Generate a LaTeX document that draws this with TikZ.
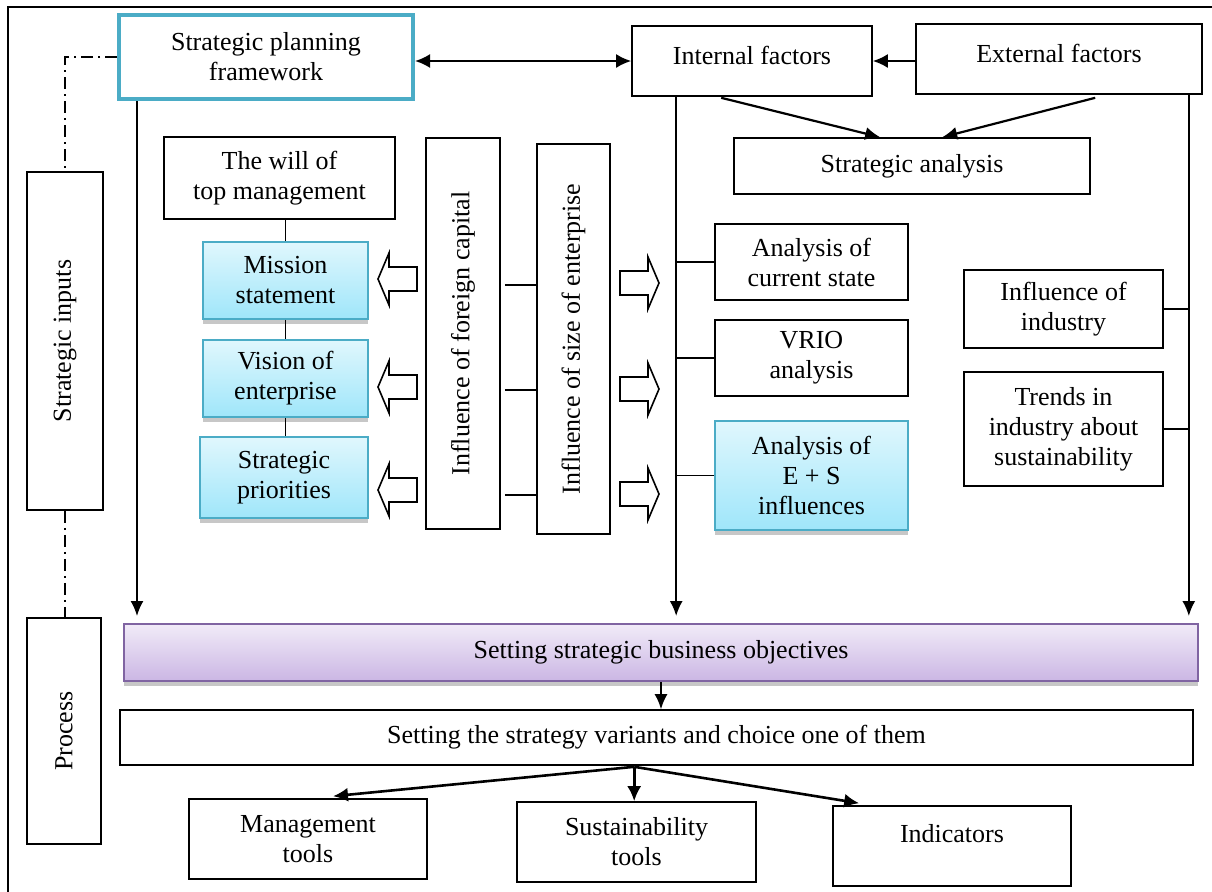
\documentclass[tikz,border=0pt]{standalone}
\usepackage{fontspec}
\setmainfont{Liberation Serif}
\usepackage{tikz}
\usetikzlibrary{arrows.meta,positioning,calc,fit,shadows}
\definecolor{ink}{HTML}{000000}
\definecolor{frameblue}{HTML}{4BACC6}
\definecolor{cyantop}{HTML}{E0F7FD}
\definecolor{cyanbot}{HTML}{9FE6FA}
\definecolor{lilac}{HTML}{8064A2}
\definecolor{lilactop}{HTML}{F1EBF8}
\definecolor{lilacbot}{HTML}{CBB6E4}

\begin{document}
\begin{tikzpicture}[x=0.5pt,y=-0.5pt]
    \tikzset{
      txt/.style={font=\fontsize{13}{15}\selectfont,align=center},
      item/.style={draw=ink,line width=0.8pt,fill=white,inner sep=0pt},
      says/.style={label={[txt]center:#1}},
      sayshigh/.style={label={[txt,yshift=3pt]center:#1}},
      upright/.style={item,label={[txt,rotate=90]center:#1}},
      focus/.style={item,draw=frameblue,top color=cyantop,bottom color=cyanbot,drop shadow={shadow xshift=0pt,shadow yshift=-2.5pt,fill=black!22,opacity=1}},
      goal/.style={item,draw=lilac,line width=1pt,top color=lilactop,bottom color=lilacbot,drop shadow={shadow xshift=0pt,shadow yshift=-2.5pt,fill=black!22,opacity=1}},
      arrow/.style={-{Latex[length=7.5pt,width=6.5pt]},draw=ink,line width=0.9pt},
      bigarrow/.style={-{Latex[length=7.5pt,width=7pt]},draw=ink,line width=1.3pt},
      link/.style={draw=ink,line width=0.9pt},
      dashdot/.style={draw=ink,line width=0.7pt,dash pattern=on 6pt off 2.5pt on 1pt off 2.5pt},
      fatarrow/.pic={\draw[line width=0.8pt,fill=white] (-19.5,-12) -- (8.5,-12) -- (8.5,-26) -- (19.5,0) -- (8.5,26) -- (8.5,12) -- (-19.5,12) -- cycle;}
    }
    \useasboundingbox (0,0) rectangle (1212,891);
    \draw[line width=0.6pt] (8,900) |- (1220,7);

    % top row
    \node[item,draw=frameblue,line width=2pt,fit={(119,15) (413,99)},says=Strategic planning\\framework] (spf) {};
    \node[item,fit={(632,26) (872,96)},sayshigh=Internal factors] (internal) {};
    \node[item,fit={(916,24) (1202,94)},sayshigh=External factors] (external) {};
    \node[item,fit={(734,138) (1090,194)},says=Strategic analysis] (stratanalysis) {};

    % left column
    \node[upright=Strategic inputs,fit={(27,172) (103,510)}] (inputs) {};
    \node[upright=Process,fit={(27,618) (101,844)}] (process) {};

    % company side
    \node[item,fit={(164,137) (395,219)},says=The will of\\top management] (will) {};
    \node[focus,fit={(203,242) (368,319)},says=Mission\\statement] (mission) {};
    \node[focus,fit={(203,340) (368,417)},says=Vision of\\enterprise] (vision) {};
    \node[focus,fit={(200,437) (368,518)},says=Strategic\\priorities] (priorities) {};
    \node[upright=Influence of foreign capital,fit={(426,138) (500,529)}] (foreign) {};
    \node[upright=Influence of size of enterprise,fit={(537,144) (610,534)}] (size) {};

    % analysis side
    \node[item,fit={(715,224) (908,300)},says=Analysis of\\current state] (current) {};
    \node[item,fit={(715,320) (908,396)},says=VRIO\\analysis] (vrio) {};
    \node[focus,fit={(715,421) (908,530)},says=Analysis of\\E + S\\influences] (esinfl) {};
    \node[item,fit={(964,270) (1163,348)},says=Influence of\\industry] (industry) {};
    \node[item,fit={(964,372) (1163,486)},says=Trends in\\industry about\\sustainability] (trends) {};

    % process part
    \node[goal,fit={(124,624) (1198,681)},says=Setting strategic business objectives] (objectives) {};
    \node[item,fit={(120,710) (1193,765)},says=Setting the strategy variants and choice one of them] (variants) {};
    \node[item,fit={(189,799) (427,879)},says=Management\\tools] (mgmt) {};
    \node[item,fit={(517,802) (756,882)},says=Sustainability\\tools] (sustools) {};
    \node[item,fit={(833,806) (1071,886)},label={[txt,yshift=6pt]center:Indicators}] (indicators) {};

    % connectors
    \draw[dashdot] (spf.west) -| (inputs.north);
    \draw[dashdot] (inputs.south) -- (inputs.south |- process.north);
    \draw[{Latex[length=7.5pt,width=7pt]}-{Latex[length=7.5pt,width=7pt]},line width=1.1pt] (spf.east |- internal.west) -- (internal.west);
    \draw[-{Latex[length=7.5pt,width=7pt]},line width=1.1pt] (external.west |- internal.east) -- (internal.east);
    \draw[arrow,line width=1.1pt] ($(internal.south west)+(90,1)$) -- ($(stratanalysis.north west)+(147,0)$);
    \draw[arrow,line width=1.1pt] ($(external.south west)+(180,3)$) -- ($(stratanalysis.north west)+(209,0)$);

    \draw[arrow] ($(spf.south west)+(20,0)$) coordinate (sv) -- ([yshift=3.5pt]sv |- objectives.north);
    \draw[arrow] ($(internal.south west)+(45,0)$) coordinate (iv) -- ([yshift=3.5pt]iv |- objectives.north);
    \draw[arrow] ($(external.south east)+(-14,0)$) coordinate (ev) -- ([yshift=3.5pt]ev |- objectives.north);
    \foreach \nd in {current,vrio,esinfl} \draw[link] (\nd.west) -- (\nd.west -| iv);
    \foreach \nd in {industry,trends} \draw[link] (\nd.east) -- (\nd.east -| ev);

    \draw[link] (mission.north) -- (mission.north |- will.south);
    \draw[link] (mission.south) -- (mission.south |- vision.north);
    \draw[link] (vision.south) -- (vision.south |- priorities.north);
    \foreach \y in {285,390,495} \draw[link] ([xshift=2pt]foreign.east |- 0,\y) -- (size.west |- 0,\y);

    \foreach \y in {279,387,490} \pic[rotate=180] at (397.5,\y) {fatarrow};
    \foreach \y in {283,389,494} \pic at (639.5,\y) {fatarrow};

    \draw[arrow] (objectives.south) -- (objectives.south |- variants.north);
    \draw[bigarrow] ($(variants.south west)+(515,1)$) coordinate (vb) -- ($(mgmt.north)+(25,-2)$);
    \draw[bigarrow] (vb) -- (vb |- sustools.north);
    \draw[bigarrow] (vb) -- ($(indicators.north west)+(27,-2)$);
  \end{tikzpicture}
\end{document}
